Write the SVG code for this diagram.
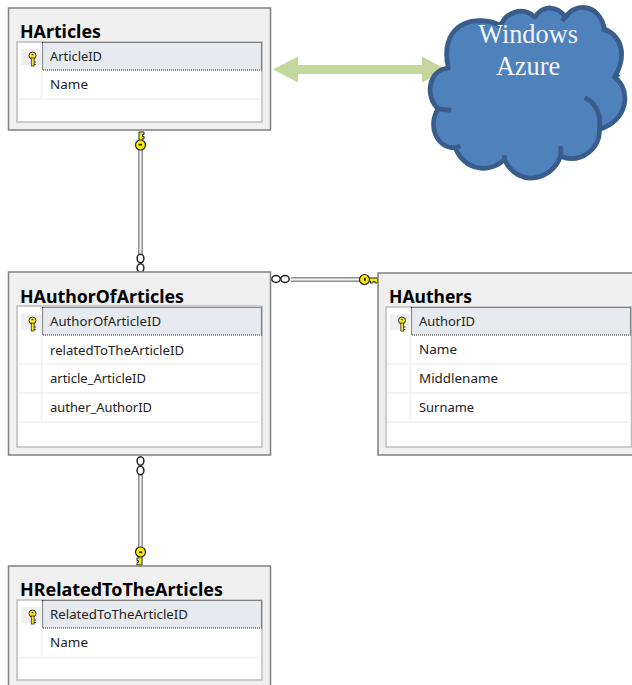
<svg xmlns="http://www.w3.org/2000/svg" width="632" height="685" viewBox="0 0 632 685">
<style>
.outer{fill:#f0f0f0;stroke:#808080;stroke-width:1.5}
.inner{fill:#fff;stroke:#bdbdbd;stroke-width:1.5}
.sel{fill:#e7ebef;stroke:#222;stroke-width:1.2;stroke-dasharray:1 1}
.keybg{fill:#f0f0f0}
.sep{stroke:#f0f0f0;stroke-width:1.5;fill:none}
.title{font-family:"Noto Sans","Open Sans",sans-serif;font-weight:700;font-size:17px;fill:#000}
.row{font-family:"Noto Sans","Open Sans",sans-serif;font-size:12.5px;fill:#222}
.az{font-family:"Liberation Serif",serif;font-size:26.300px;fill:#f2f6fb;text-anchor:middle}
.lo{stroke:#919191;stroke-width:5;fill:none}
.li{stroke:#f4f4f4;stroke-width:2;fill:none}
.ring{fill:#fff;stroke:#222;stroke-width:1.500}
</style>
<defs>
<g id="rowkey"><circle cx="0" cy="-3" r="3.500" fill="#f7e32a" stroke="#333" stroke-width="1"/><rect x="-1.200" y="-0.500" width="2.800" height="8" fill="#f7e32a" stroke="#333" stroke-width=".8"/><path d="M1.600 3.500h1.800M1.600 6h1.800" stroke="#333" stroke-width="1"/><circle cx="0" cy="-4" r=".8" fill="#333"/></g>
<g id="relkey"><path d="M-1.500 -1V-13H3.500V-10.500H2V-8.500H3.500V-6H1.500V-1Z" fill="#ffee00" stroke="#222" stroke-width="1"/><circle cx="0" cy="0" r="5" fill="#ffee00" stroke="#222" stroke-width="1.200"/><rect x="-1.800" y="-1.200" width="3.200" height="1.800" fill="#222"/></g>
</defs>

<g id="connectors">
<path class="lo" d="M140.500 150V255M140.500 475V550M291 279.500H362"/>
<path class="li" d="M140.500 150V255M140.500 475V550M291 279.500H362"/>
<path d="M273 69.500L298 56.500V65H422V56.500L446 69.500L422 82.500V74H298V82.500Z" fill="#c3d69b" stroke="none"/>
<use href="#relkey" transform="translate(140.500 145)"/>
<use href="#relkey" transform="translate(140.500 552) rotate(180)"/>
<use href="#relkey" transform="translate(364.500 279.500) rotate(90)"/>
<ellipse class="ring" cx="140.500" cy="258.500" rx="3.400" ry="4.200"/><ellipse class="ring" cx="140.500" cy="268" rx="3.400" ry="4.200"/>
<ellipse class="ring" cx="140.500" cy="461" rx="3.400" ry="4.200"/><ellipse class="ring" cx="140.500" cy="470.500" rx="3.400" ry="4.200"/>
<ellipse class="ring" cx="276" cy="279" rx="4.200" ry="3.400"/><ellipse class="ring" cx="285" cy="279" rx="4.200" ry="3.400"/>
</g>

<g id="HArticles">
<rect class="outer" x="8.500" y="8" width="262" height="122"/>
<rect class="inner" x="17" y="42" width="245" height="80"/>
<rect class="keybg" x="21" y="49" width="20" height="16"/>
<rect class="sel" x="42.500" y="42.500" width="219" height="27.500"/>
<path class="sep" d="M41.500 70V98M18 99H259"/>
<use href="#rowkey" transform="translate(32.500 58.500)"/>
<text class="title" x="20" y="37.500" textLength="81" lengthAdjust="spacingAndGlyphs">HArticles</text>
<text class="row" x="50" y="61" textLength="52" lengthAdjust="spacingAndGlyphs">ArticleID</text>
<text class="row" x="50" y="89" textLength="38" lengthAdjust="spacingAndGlyphs">Name</text>
</g>

<g id="HAuthOfArticles">
<rect class="outer" x="8.500" y="272" width="262" height="183"/>
<rect class="inner" x="17" y="306" width="245" height="141"/>
<rect class="keybg" x="21" y="314" width="20" height="16"/>
<rect class="sel" x="42.500" y="307.500" width="219" height="27.500"/>
<path class="sep" d="M41.500 335V421M18 364H259M18 393H259M18 422H259"/>
<use href="#rowkey" transform="translate(32.500 323.500)"/>
<text class="title" x="20" y="302.500" textLength="164" lengthAdjust="spacingAndGlyphs">HAuthorOfArticles</text>
<text class="row" x="50" y="326" textLength="111" lengthAdjust="spacingAndGlyphs">AuthorOfArticleID</text>
<text class="row" x="50" y="355" textLength="134" lengthAdjust="spacingAndGlyphs">relatedToTheArticleID</text>
<text class="row" x="50" y="383" textLength="96" lengthAdjust="spacingAndGlyphs">article_ArticleID</text>
<text class="row" x="50" y="412" textLength="102" lengthAdjust="spacingAndGlyphs">auther_AuthorID</text>
</g>

<g id="HAuthers">
<rect class="outer" x="378" y="273" width="262" height="182"/>
<rect class="inner" x="386" y="307" width="245.500" height="140"/>
<rect class="keybg" x="390" y="314" width="20" height="16"/>
<rect class="sel" x="411.500" y="307.500" width="219" height="27.500"/>
<path class="sep" d="M410.500 335V420M387 364H628M387 393H628M387 422H628"/>
<use href="#rowkey" transform="translate(402 323.500)"/>
<text class="title" x="389" y="302.500" textLength="83" lengthAdjust="spacingAndGlyphs">HAuthers</text>
<text class="row" x="419" y="326" textLength="56" lengthAdjust="spacingAndGlyphs">AuthorID</text>
<text class="row" x="419" y="354" textLength="38" lengthAdjust="spacingAndGlyphs">Name</text>
<text class="row" x="419" y="383" textLength="79" lengthAdjust="spacingAndGlyphs">Middlename</text>
<text class="row" x="419" y="412" textLength="55" lengthAdjust="spacingAndGlyphs">Surname</text>
</g>

<g id="HRelatedToTheArticles">
<rect class="outer" x="8.500" y="566" width="262" height="130"/>
<rect class="inner" x="17" y="600" width="245" height="80"/>
<rect class="keybg" x="21" y="607" width="20" height="16"/>
<rect class="sel" x="42.500" y="600.500" width="219" height="27.500"/>
<path class="sep" d="M41.500 628V656M18 657.500H259"/>
<use href="#rowkey" transform="translate(32.500 616.500)"/>
<text class="title" x="20" y="595.500" textLength="203" lengthAdjust="spacingAndGlyphs">HRelatedToTheArticles</text>
<text class="row" x="50" y="619" textLength="138" lengthAdjust="spacingAndGlyphs">RelatedToTheArticleID</text>
<text class="row" x="50" y="647" textLength="38" lengthAdjust="spacingAndGlyphs">Name</text>
</g>

<g id="WindowsAzure">
<g transform="translate(255 -1.500) scale(.3393)">
<path d="M570 205C550 120 590 65 665 65C690 66 710 70 725 82C735 40 790 22 825 55C850 18 890 20 915 55C945 10 1015 15 1030 90C1085 115 1095 170 1060 232C1110 270 1100 360 1015 385C1020 440 960 490 900 465C880 530 780 565 735 475C690 515 620 510 590 440C530 440 510 370 540 325C500 290 510 210 570 205Z" fill="#4f81bd" stroke="#385d8a" stroke-width="14" stroke-linejoin="round"/>
<path d="M972 292C1010 310 1020 350 1015 385M900 435C902 445 902 455 900 465M735 462V475M605 435L590 440M578 330L540 325M725 82L718 70M905 66L915 55M1030 90L1025 98M1060 232L1072 222" fill="none" stroke="#385d8a" stroke-width="14"/>
</g>
<text class="az" x="528" y="43">Windows</text>
<text class="az" x="528" y="75">Azure</text>
</g>
</svg>
